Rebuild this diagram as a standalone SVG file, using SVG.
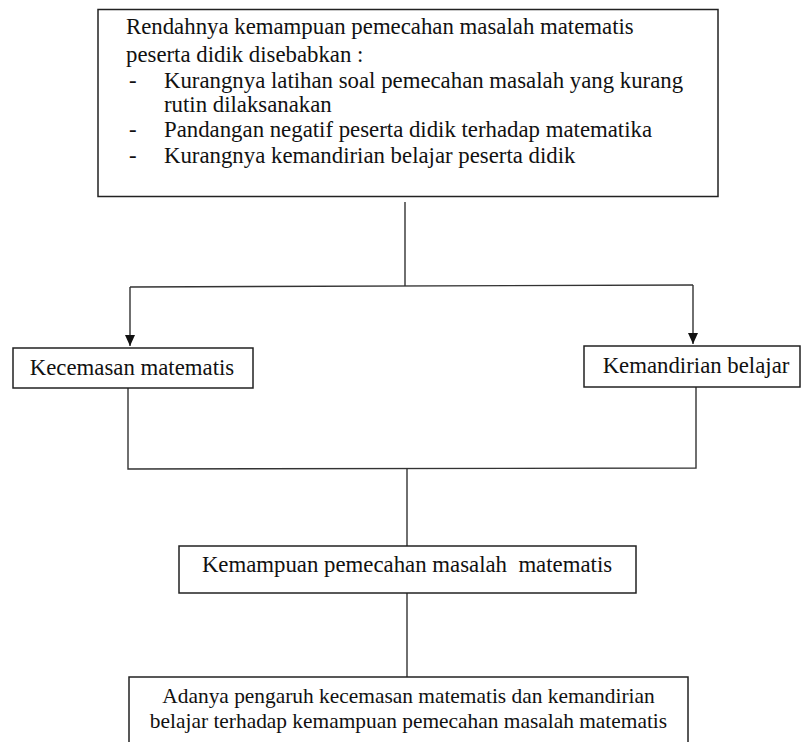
<svg xmlns="http://www.w3.org/2000/svg" width="802" height="742" viewBox="0 0 802 742">
<style>
.box{fill:#fff;stroke:#222;stroke-width:1.5}
.t{font-family:"Liberation Serif","Times New Roman",serif;font-size:22.8px;fill:#111}
.tb{font-family:"Liberation Serif","Times New Roman",serif;font-size:21.4px;fill:#111}
.c{fill:none;stroke:#333;stroke-width:1.4}
</style>
<defs>
<marker id="arr" markerUnits="userSpaceOnUse" markerWidth="11" markerHeight="10" viewBox="0 0 11 10" refX="11" refY="5" orient="auto">
<path d="M0,0 L11,5 L0,10 z" fill="#111"/>
</marker>
</defs>
<rect width="802" height="742" fill="#fff"/>
<g id="connectors">
<path class="c" d="M405,202 V286"/>
<path class="c" d="M130,287 L693,285"/>
<path class="c" d="M130,287 V346" marker-end="url(#arr)"/>
<path class="c" d="M693,285 V344" marker-end="url(#arr)"/>
<path class="c" d="M128,388 V469 L696,468 V387"/>
<path class="c" d="M407,468 V546"/>
<path class="c" d="M407,593 V677"/>
</g>
<g id="node-penyebab">
<rect class="box" x="98" y="9.5" width="620" height="187"/>
<text class="t" x="126" y="34">Rendahnya kemampuan pemecahan masalah matematis</text>
<text class="t" x="126" y="62">peserta didik disebabkan :</text>
<text class="t" x="129" y="88">-</text>
<text class="t" x="164" y="88">Kurangnya latihan soal pemecahan masalah yang kurang</text>
<text class="t" x="164" y="112">rutin dilaksanakan</text>
<text class="t" x="129" y="137">-</text>
<text class="t" x="164" y="137">Pandangan negatif peserta didik terhadap matematika</text>
<text class="t" x="129" y="163">-</text>
<text class="t" x="164" y="163">Kurangnya kemandirian belajar peserta didik</text>
</g>
<g id="node-kecemasan">
<rect class="box" x="13" y="348" width="240" height="40"/>
<text class="t" x="132" y="375" text-anchor="middle">Kecemasan matematis</text>
</g>
<g id="node-kemandirian">
<rect class="box" x="584" y="346" width="216" height="41"/>
<text class="t" x="696" y="373" text-anchor="middle">Kemandirian belajar</text>
</g>
<g id="node-kemampuan">
<rect class="box" x="179" y="546" width="457" height="47"/>
<text class="t" x="407" y="572" text-anchor="middle" xml:space="preserve" style="white-space:pre">Kemampuan pemecahan masalah  matematis</text>
</g>
<g id="node-pengaruh">
<rect class="box" x="129" y="677" width="559" height="80"/>
<text class="tb" x="408.5" y="703" text-anchor="middle">Adanya pengaruh kecemasan matematis dan kemandirian</text>
<text class="tb" x="408.5" y="728" text-anchor="middle">belajar terhadap kemampuan pemecahan masalah matematis</text>
</g>
</svg>
